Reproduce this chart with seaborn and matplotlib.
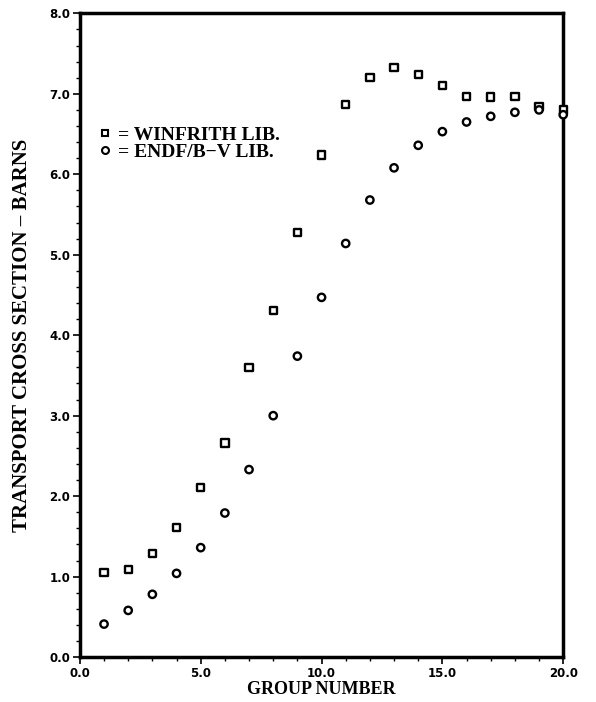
# Transport cross section vs group number, WINFRITH vs ENDF/B-V libraries

import matplotlib
matplotlib.use("Agg")
import matplotlib.pyplot as plt
from matplotlib.lines import Line2D
from matplotlib.ticker import MultipleLocator, FormatStrFormatter
import seaborn as sns
import pandas as pd

groups = [1, 2, 3, 4, 5, 6, 7, 8, 9, 10, 11, 12, 13, 14, 15, 16, 17, 18, 19, 20]
winfrith = [1.05, 1.09, 1.29, 1.61, 2.11, 2.66, 3.60, 4.31, 5.28, 6.24,
            6.87, 7.20, 7.33, 7.24, 7.10, 6.97, 6.96, 6.97, 6.84, 6.80]
endf = [0.41, 0.58, 0.78, 1.04, 1.36, 1.79, 2.33, 3.00, 3.74, 4.47,
        5.14, 5.68, 6.08, 6.36, 6.53, 6.65, 6.72, 6.77, 6.80, 6.74]
labels = ["= WINFRITH LIB.", "= ENDF/B\u2212V LIB."]

df = pd.concat([
    pd.DataFrame({"group": groups, "xs": winfrith, "lib": labels[0]}),
    pd.DataFrame({"group": groups, "xs": endf, "lib": labels[1]}),
])

sns.set_style("ticks")
plt.rcParams["font.family"] = ["Liberation Serif", "DejaVu Serif"]
plt.rcParams.update({"text.color": "black", "axes.labelcolor": "black",
                     "xtick.color": "black", "ytick.color": "black"})

fig = plt.figure(figsize=(5.96, 7.02), dpi=100)
ax = fig.add_axes([0.134, 0.064, 0.811, 0.917])

sns.scatterplot(data=df, x="group", y="xs", style="lib", markers={labels[0]: "s", labels[1]: "o"},
                facecolor="white", edgecolor="black", linewidth=1.7, s=28, color="black",
                legend=False, ax=ax, zorder=3, clip_on=False)

ax.set_xlim(0, 20)
ax.set_ylim(0, 8)
ax.xaxis.set_major_locator(MultipleLocator(5))
ax.xaxis.set_minor_locator(MultipleLocator(1))
ax.yaxis.set_major_locator(MultipleLocator(1))
ax.yaxis.set_minor_locator(MultipleLocator(0.2))
ax.xaxis.set_major_formatter(FormatStrFormatter("%.1f"))
ax.yaxis.set_major_formatter(FormatStrFormatter("%.1f"))

for s in ax.spines.values():
    s.set_linewidth(2.5)
    s.set_color("black")
ax.tick_params(which="major", direction="out", length=5, width=1.2, labelsize=8.5, pad=2,
               colors="black")
ax.tick_params(which="minor", direction="out", length=3, width=1.0, colors="black")
for t in ax.get_xticklabels() + ax.get_yticklabels():
    t.set_fontfamily("DejaVu Sans")
    t.set_fontweight("bold")

ax.set_xlabel("GROUP NUMBER", fontsize=13, fontweight="bold", labelpad=1)
ax.set_ylabel("TRANSPORT CROSS SECTION \u2013 BARNS", fontsize=15, fontweight="bold", labelpad=12)

handles = [
    Line2D([], [], marker="s", ls="none", mfc="white", mec="black", mew=1.5, ms=5),
    Line2D([], [], marker="o", ls="none", mfc="white", mec="black", mew=1.5, ms=5),
]
leg = ax.legend(handles, labels, loc="upper left", bbox_to_anchor=(0.04, 0.825),
                frameon=False, handlelength=0.6, handletextpad=0.35, labelspacing=0.0,
                borderaxespad=0, borderpad=0,
                prop={"family": "Liberation Serif", "weight": "bold", "size": 14})

fig.savefig("out.png", dpi=100)
